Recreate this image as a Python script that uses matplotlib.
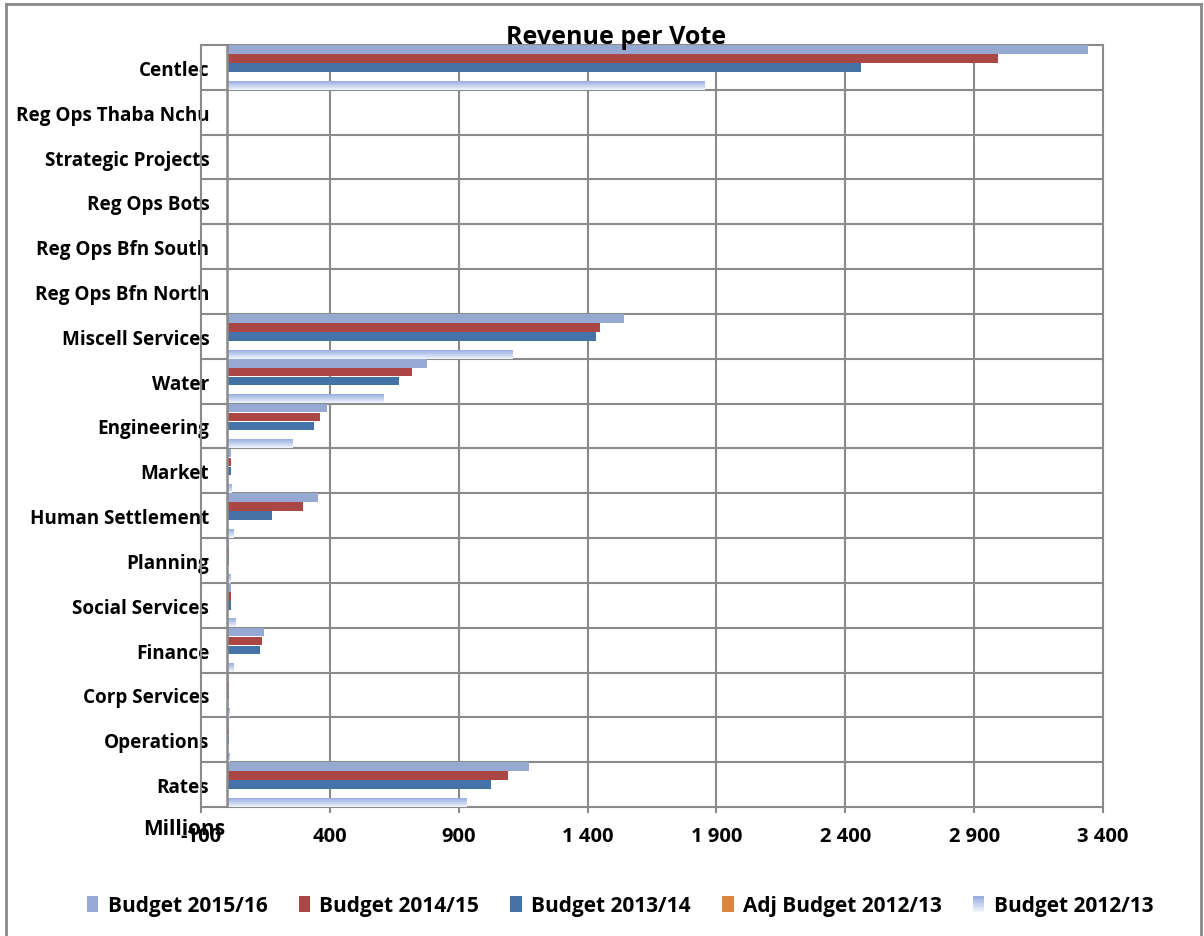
import numpy as np
import matplotlib
matplotlib.use("Agg")
import matplotlib.pyplot as plt
from matplotlib.patches import Rectangle
from matplotlib.lines import Line2D
from matplotlib.colors import LinearSegmentedColormap
from matplotlib.legend_handler import HandlerBase

# Revenue per vote, in millions (bottom category first)
votes = ["Rates", "Operations", "Corp Services", "Finance", "Social Services",
         "Planning", "Human Settlement", "Market", "Engineering", "Water",
         "Miscell Services", "Reg Ops Bfn North", "Reg Ops Bfn South",
         "Reg Ops Bots", "Strategic Projects", "Reg Ops Thaba Nchu", "Centlec"]

budget_2015_16 = [1171, 8, 8, 143, 15, 8, 353, 16, 388, 775, 1543, 0, 0, 0, 0, 0, 3341]
budget_2014_15 = [1093, 9, 8, 135, 15, 8, 295, 16, 361, 717, 1450, 0, 0, 0, 0, 0, 2992]
budget_2013_14 = [1027, 8, 8, 127, 16, 8, 176, 17, 337, 667, 1434, 0, 0, 0, 0, 0, 2461]
adj_budget_2012_13 = [0] * 17
budget_2012_13 = [930, 10, 10, 26, 34, 12, 26, 19, 256, 608, 1109, 0, 0, 0, 0, 0, 1853]

series = ["Budget 2015/16", "Budget 2014/15", "Budget 2013/14",
          "Adj Budget 2012/13", "Budget 2012/13"]
x_ticks = np.arange(-100, 3401, 500)

c15 = "#95a9d2"
c14 = "#aa4643"
c13 = "#4572a7"
cadj = "#db843d"
c12_top = "#97aee0"
c12_bot = "#f2f5fc"
grid_c = "#8a8a8a"
FONT = "Open Sans"

grad_cmap = LinearSegmentedColormap.from_list("grad12", [c12_top, c12_bot])

fig = plt.figure(figsize=(12.04, 9.37), dpi=100)
ax = fig.add_axes([201 / 1204, 1 - 808 / 937, 902 / 1204, 762 / 937])

y = np.arange(len(votes))
h = 0.19
values = [budget_2015_16, budget_2014_15, budget_2013_14, adj_budget_2012_13, budget_2012_13]
colors = [c15, c14, c13, cadj, c12_top]
offsets = [0.4, 0.2, 0.0, -0.2, -0.4]

containers = []
for vals, col, off, name in zip(values, colors, offsets, series):
    bc = ax.barh(y + off, vals, height=h, color=col, zorder=3, label=name)
    containers.append(bc)

# gradient fill for the 2012/13 budget bars
grad = np.linspace(0, 1, 64).reshape(-1, 1)
for bar in containers[-1]:
    w = bar.get_width()
    if w <= 0:
        continue
    bar.set_facecolor("none")
    y0 = bar.get_y()
    ax.imshow(grad, cmap=grad_cmap, aspect="auto", origin="upper",
              extent=[0, w, y0, y0 + bar.get_height()], zorder=3)

ax.set_xlim(-100, 3400)
ax.set_ylim(-0.5, len(votes) - 0.5)

# grid: category separators and value gridlines
for k in range(len(votes) - 1):
    ax.axhline(k + 0.5, color=grid_c, lw=1.5, zorder=1)
for t in x_ticks[1:-1]:
    ax.axvline(t, color=grid_c, lw=1.5, zorder=1)
ax.axvline(0, color=grid_c, lw=1.8, zorder=4)

for sp in ax.spines.values():
    sp.set_color(grid_c)
    sp.set_linewidth(1.5)

ax.set_xticks(x_ticks)
ax.set_xticklabels([f"{t:,}".replace(",", " ") for t in x_ticks],
                   fontfamily=FONT, fontweight="bold", fontsize=14.5)
ax.tick_params(axis="x", direction="out", length=4, width=1.5, color=grid_c, pad=10)

ax.set_yticks(y)
ax.set_yticklabels(votes, fontfamily=FONT, fontweight="bold", fontsize=13.6)
ax.tick_params(axis="y", length=0, pad=-6)

fig.text(616 / 1204, 1 - 38 / 937, "Revenue per Vote", ha="center", va="center",
         fontfamily=FONT, fontweight="bold", fontsize=18)

fig.text(184 / 1204, 1 - 830 / 937, "Millions", ha="center", va="center",
         fontfamily=FONT, fontweight="bold", fontsize=15)


class GradientHandler(HandlerBase):
    def create_artists(self, legend, orig_handle, xdescent, ydescent,
                       width, height, fontsize, trans):
        n = 12
        arts = []
        for i in range(n):
            col = grad_cmap(i / (n - 1))
            r = Rectangle((-xdescent, -ydescent + height * (1 - (i + 1) / n)),
                          width, height / n, facecolor=col, edgecolor="none",
                          transform=trans)
            arts.append(r)
        return arts


handles = [Rectangle((0, 0), 1, 1, facecolor=c, edgecolor="none") for c in [c15, c14, c13, cadj]]
grad_handle = Rectangle((0, 0), 1, 1, facecolor=c12_top)
handles.append(grad_handle)
fig.legend(handles, series, loc="center", bbox_to_anchor=(620 / 1204, 1 - 907 / 937),
           ncol=5, frameon=False, handlelength=0.55, handleheight=0.8,
           handletextpad=0.45, columnspacing=1.5,
           prop={"family": FONT, "weight": "bold", "size": 15},
           handler_map={grad_handle: GradientHandler()})

# outer chart frame
for xs, ys in [([6, 6], [5, 937]), ([6, 1201], [5, 5]), ([1201, 1201], [5, 937])]:
    fig.add_artist(Line2D([v / 1204 for v in xs], [1 - v / 937 for v in ys],
                          color="#8a8a8a", lw=2, transform=fig.transFigure))

fig.savefig("out.png", dpi=100, facecolor="white")
